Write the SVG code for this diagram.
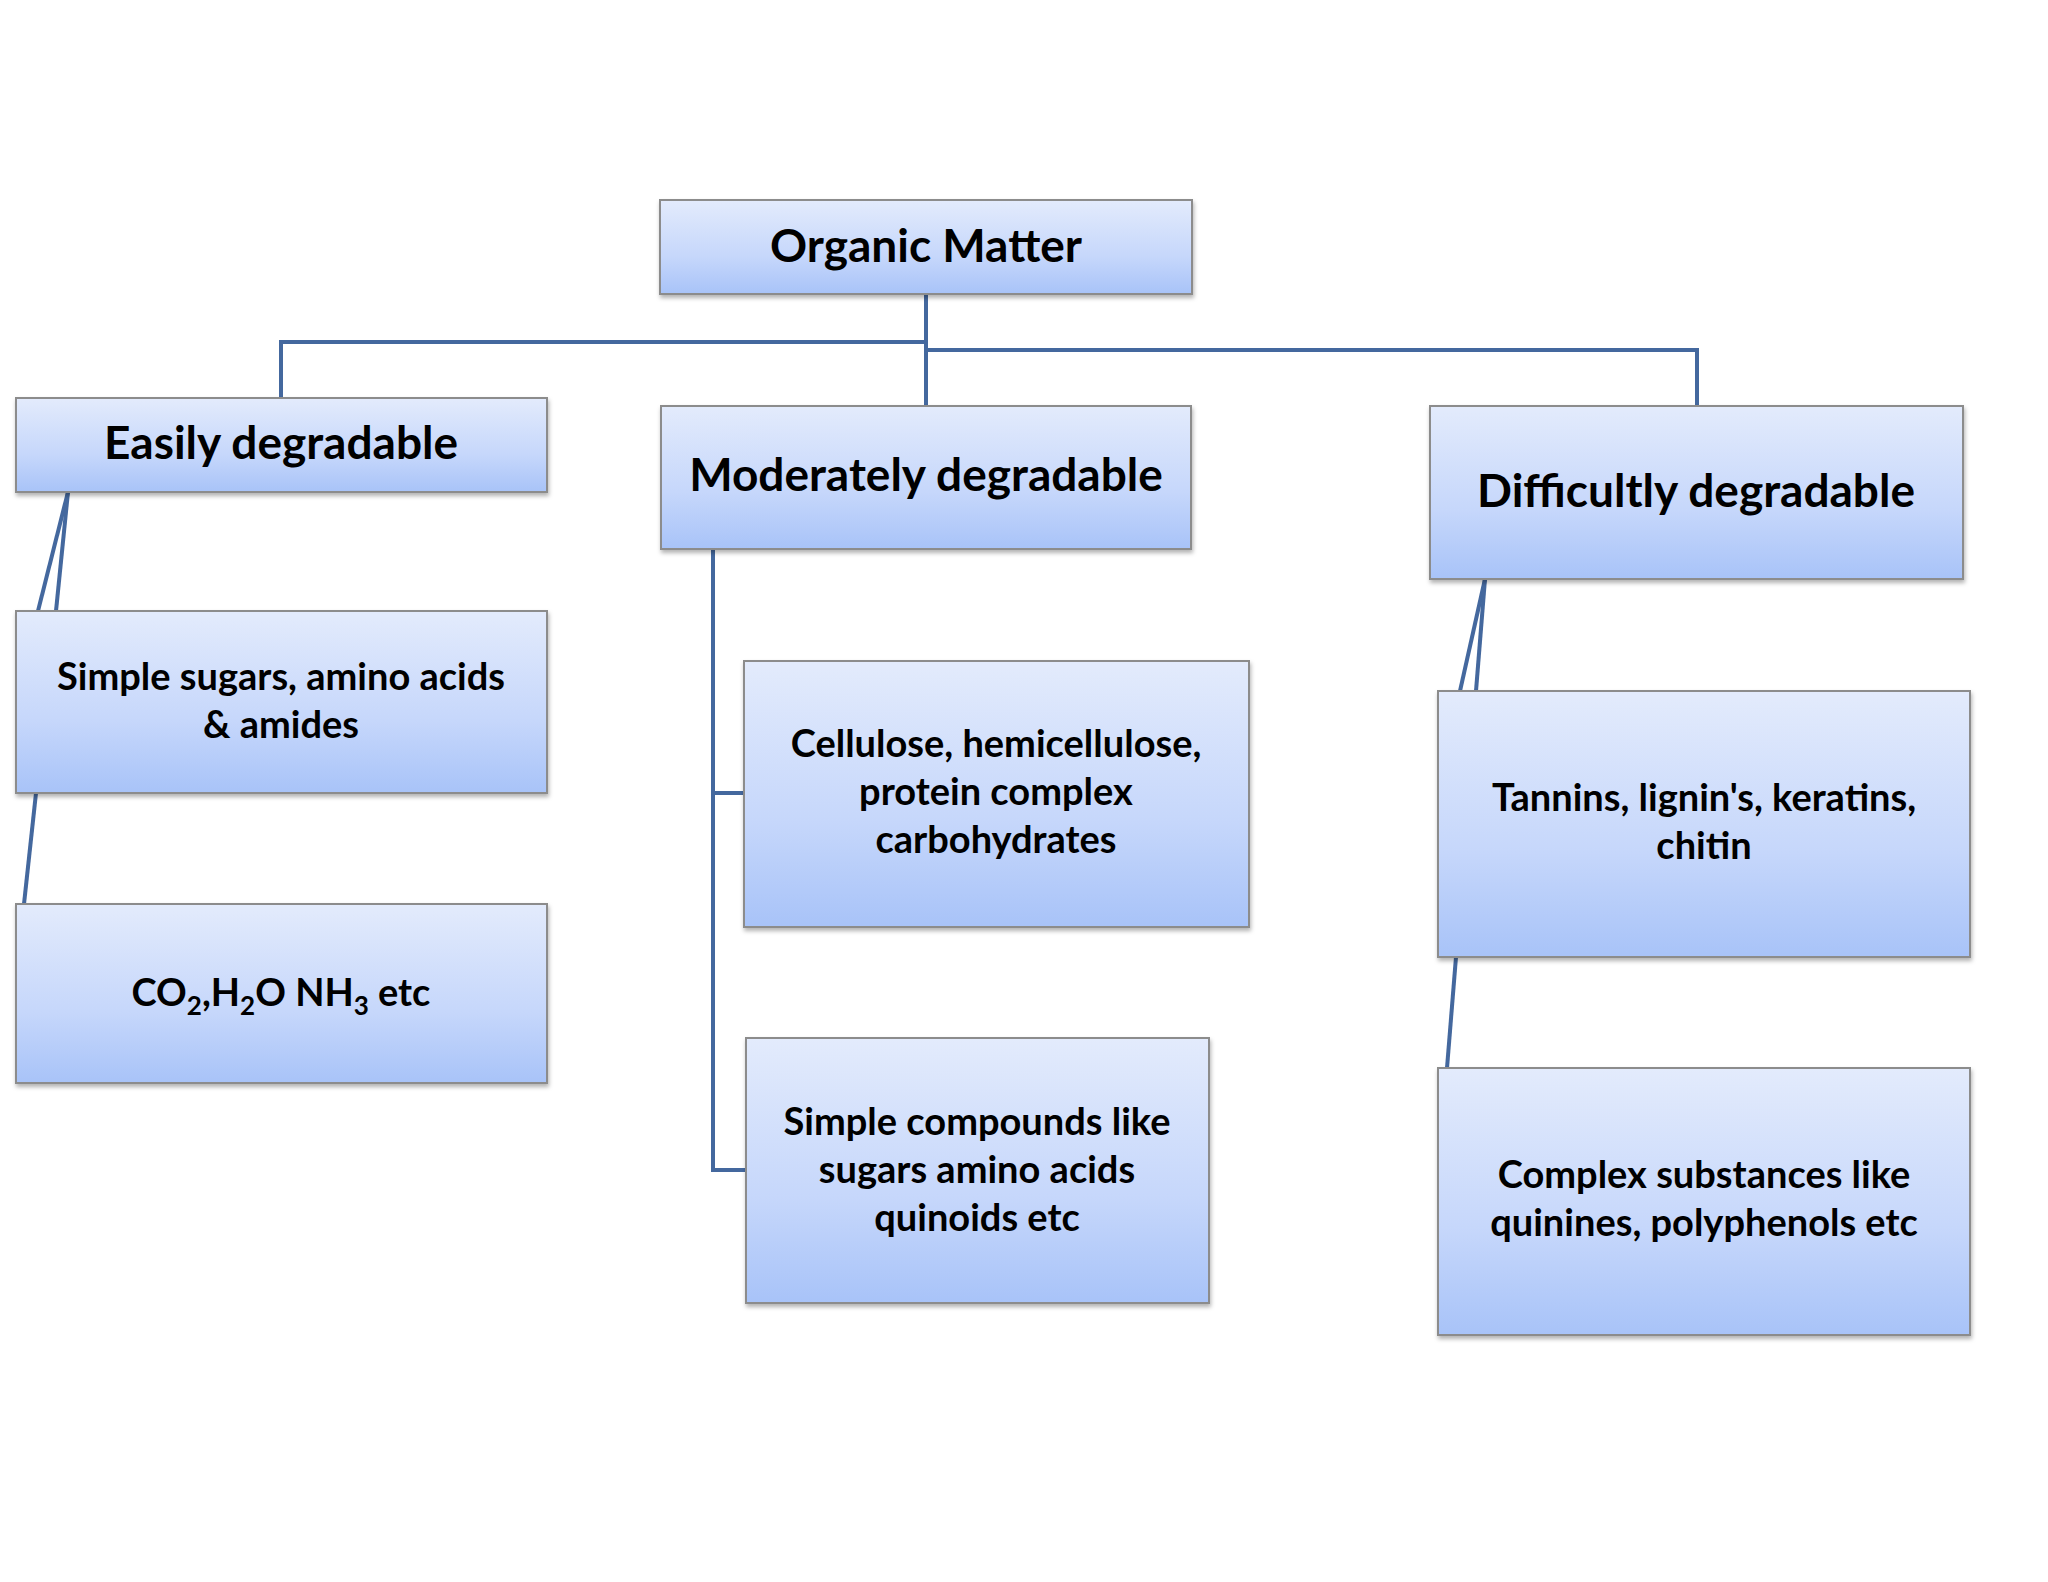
<svg xmlns="http://www.w3.org/2000/svg" width="2048" height="1582" viewBox="0 0 2048 1582">
<defs>
<linearGradient id="g" x1="0" y1="0" x2="0" y2="1">
<stop offset="0" stop-color="#e3ebfc"/><stop offset="0.6" stop-color="#c6d7fb"/><stop offset="1" stop-color="#a8c3f8"/>
</linearGradient>
<filter id="sh" x="-5%" y="-5%" width="110%" height="115%"><feDropShadow dx="1" dy="3" stdDeviation="2" flood-color="#000" flood-opacity="0.3"/></filter>
</defs>
<style>
.b{fill:url(#g);stroke:#8c8c8c;stroke-width:2;filter:url(#sh)}
text{font-family:Lato,"Open Sans","Liberation Sans",sans-serif;font-weight:bold;fill:#000;text-anchor:middle}
.L{font-size:46px}.S{font-size:38px}
.c{stroke:#44689e;stroke-width:4;fill:none}
</style>
<rect width="2048" height="1582" fill="#fff"/>
<g id="connectors">
<polyline class="c" points="926,294 926,342 281,342 281,398"/>
<line class="c" x1="926" y1="342" x2="926" y2="406"/>
<polyline class="c" points="926,350 1697,350 1697,406"/>
<line class="c" x1="68" y1="492" x2="38" y2="611"/>
<line class="c" x1="68" y1="492" x2="56" y2="611"/>
<line class="c" x1="36" y1="793" x2="24" y2="904"/>
<polyline class="c" points="713,549 713,1170 746,1170"/>
<line class="c" x1="713" y1="793" x2="744" y2="793"/>
<line class="c" x1="1485" y1="579" x2="1460" y2="691"/>
<line class="c" x1="1485" y1="579" x2="1476" y2="691"/>
<line class="c" x1="1456" y1="957" x2="1447" y2="1068"/>
</g>
<g id="organic"><rect class="b" x="660" y="200" width="532" height="94"/><text class="L" x="926" y="262">Organic Matter</text></g>
<g id="easily"><rect class="b" x="16" y="398" width="531" height="94"/><text class="L" x="281" y="459">Easily degradable</text></g>
<g id="moderately"><rect class="b" x="661" y="406" width="530" height="143"/><text class="L" x="926" y="491">Moderately degradable</text></g>
<g id="difficultly"><rect class="b" x="1430" y="406" width="533" height="173"/><text class="L" x="1696" y="507">Difficultly degradable</text></g>
<g id="sugars"><rect class="b" x="16" y="611" width="531" height="182"/><text class="S" x="281" y="690">Simple sugars, amino acids</text><text class="S" x="281" y="738">&amp; amides</text></g>
<g id="co2"><rect class="b" x="16" y="904" width="531" height="179"/><text class="S" x="281" y="1006">CO<tspan font-size="26" dy="9">2</tspan><tspan dy="-9">,H</tspan><tspan font-size="26" dy="9">2</tspan><tspan dy="-9">O NH</tspan><tspan font-size="26" dy="9">3</tspan><tspan dy="-9"> etc</tspan></text></g>
<g id="cellulose"><rect class="b" x="744" y="661" width="505" height="266"/><text class="S" x="996" y="757">Cellulose, hemicellulose,</text><text class="S" x="996" y="805">protein complex</text><text class="S" x="996" y="853">carbohydrates</text></g>
<g id="compounds"><rect class="b" x="746" y="1038" width="463" height="265"/><text class="S" x="977" y="1135">Simple compounds like</text><text class="S" x="977" y="1183">sugars amino acids</text><text class="S" x="977" y="1231">quinoids etc</text></g>
<g id="tannins"><rect class="b" x="1438" y="691" width="532" height="266"/><text class="S" x="1704" y="811">Tannins, lignin's, keratins,</text><text class="S" x="1704" y="859">chitin</text></g>
<g id="complex"><rect class="b" x="1438" y="1068" width="532" height="267"/><text class="S" x="1704" y="1188">Complex substances like</text><text class="S" x="1704" y="1236">quinines, polyphenols etc</text></g>
</svg>
